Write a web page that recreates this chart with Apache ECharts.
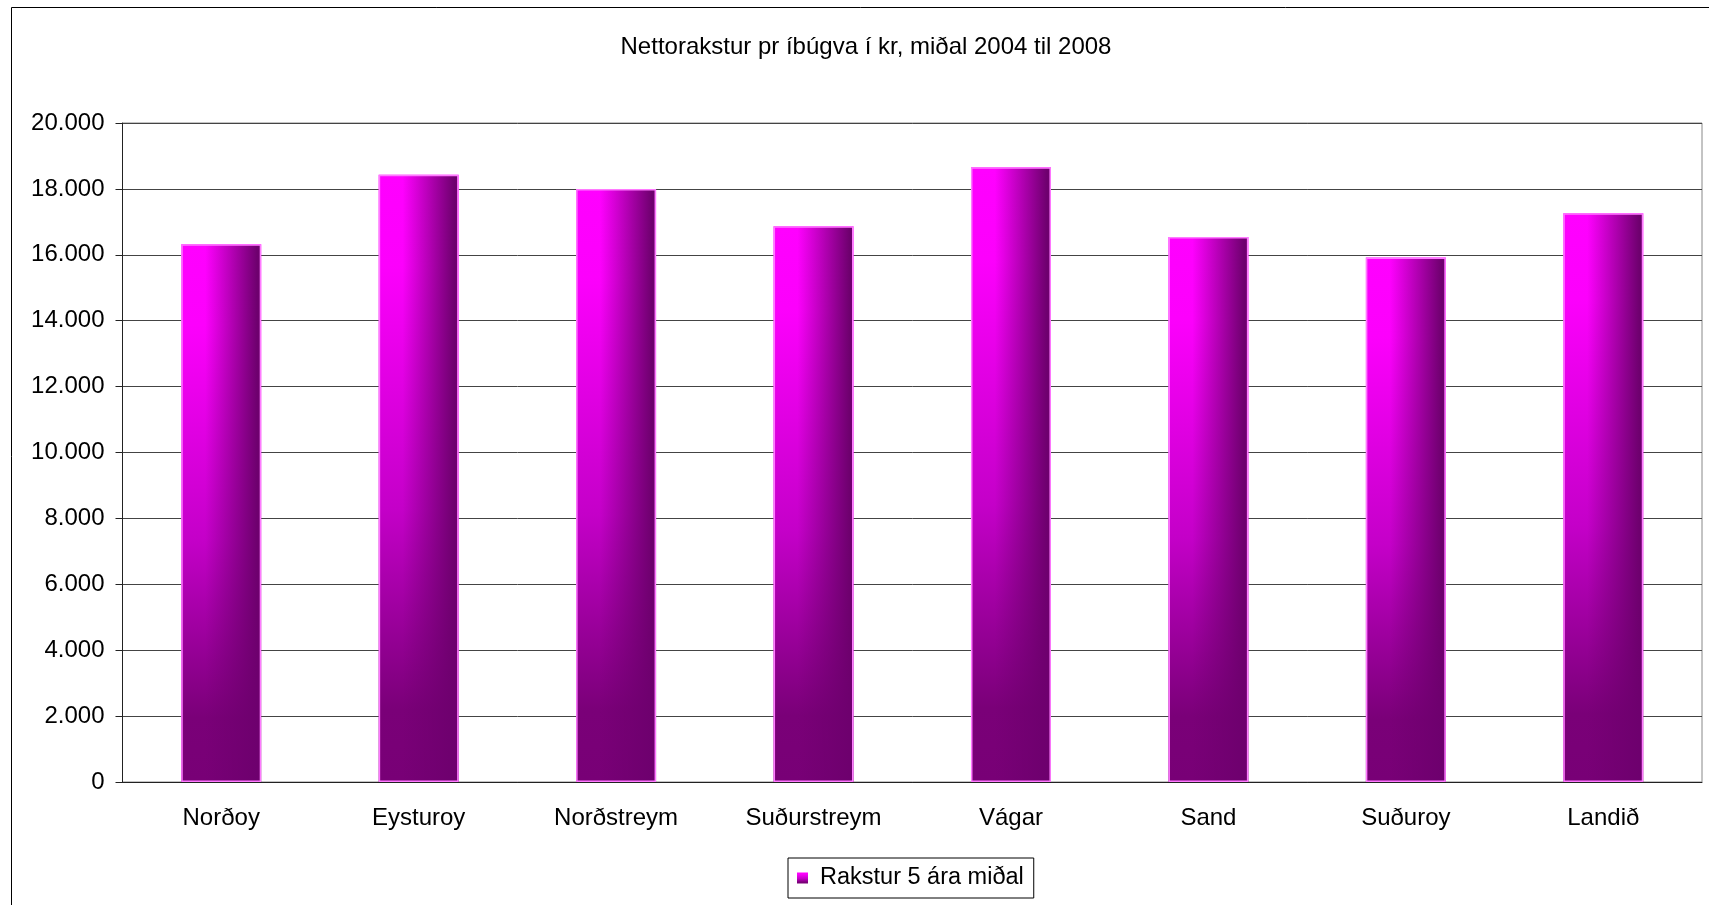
<!DOCTYPE html>
<html>
<head>
<meta charset="utf-8">
<title>Nettorakstur pr íbúgva</title>
<script src="https://cdn.jsdelivr.net/npm/echarts@6/dist/echarts.min.js"></script>
<style>
  html, body {margin: 0; padding: 0; background: #fff;}
  #chart {width: 1709px; height: 905px;}
</style>
</head>
<body>
<div id="chart"></div>
<script>
// data
const titleText = 'Nettorakstur pr íbúgva í kr, miðal 2004 til 2008'
const seriesName = 'Rakstur 5 ára miðal'
const categories = ['Norðoy', 'Eysturoy', 'Norðstreym', 'Suðurstreym', 'Vágar', 'Sand', 'Suðuroy', 'Landið']
const rakstur = [16320, 18430, 18000, 16870, 18660, 16540, 15920, 17260]
const yMin = 0
const yMax = 20000
const yStep = 2000

const font = "'Liberation Sans', Arial, sans-serif"

function thousands (v) {
  return String(v).replace(/\B(?=(\d{3})+(?!\d))/g, '.')
}

// vertical fade: magenta on top, dark purple at the foot
const baseFill = new echarts.graphic.LinearGradient(0, 0, 0, 1, [
  {offset: 0, color: '#ff00ff'},
  {offset: 0.15, color: '#fc00fc'},
  {offset: 0.55, color: '#c400c8'},
  {offset: 0.88, color: '#7a0078'},
  {offset: 1, color: '#780076'}
])
// horizontal shade toward the right edge, laid over the base
const shadeFill = new echarts.graphic.LinearGradient(0, 0, 1, 0, [
  {offset: 0, color: 'rgba(110, 0, 110, 0)'},
  {offset: 0.3, color: 'rgba(110, 0, 110, 0)'},
  {offset: 0.95, color: 'rgba(110, 0, 110, 1)'},
  {offset: 1, color: 'rgba(110, 0, 110, 1)'}
])

const chart = echarts.init(document.getElementById('chart'))

chart.setOption({
  animation: false,
  backgroundColor: '#fff',
  textStyle: {fontFamily: font},
  title: {
    text: titleText,
    left: 866,
    top: 35,
    padding: 0,
    textAlign: 'center',
    textStyle: {fontFamily: font, fontSize: 24, fontWeight: 'normal', color: '#000'}
  },
  graphic: [{
    type: 'rect',
    silent: true,
    shape: {x: 11.5, y: 7.5, width: 1800, height: 1000},
    style: {fill: 'none', stroke: '#000', lineWidth: 1}
  }],
  legend: {
    data: [{name: seriesName, icon: 'rect'}],
    left: 788,
    top: 858,
    padding: [8, 10, 8, 9],
    borderColor: '#000',
    borderWidth: 1,
    itemWidth: 11,
    itemHeight: 11,
    selectedMode: false,
    textStyle: {fontFamily: font, fontSize: 23.5, color: '#000', padding: [0, 0, 0, 7]}
  },
  grid: {
    left: 122.5,
    right: 7,
    top: 123,
    bottom: 123,
    show: true,
    borderColor: '#888',
    borderWidth: 1
  },
  xAxis: {
    type: 'category',
    data: categories,
    axisLine: {lineStyle: {color: '#222', width: 1}},
    axisTick: {length: 7, lineStyle: {color: '#222'}},
    axisLabel: {fontFamily: font, fontSize: 24, color: '#000', margin: 24}
  },
  yAxis: {
    type: 'value',
    min: yMin,
    max: yMax,
    interval: yStep,
    axisLine: {show: true, lineStyle: {color: '#222', width: 1}},
    axisTick: {show: true, length: 7, lineStyle: {color: '#222'}},
    axisLabel: {fontFamily: font, fontSize: 24, color: '#000', margin: 18, formatter: thousands},
    splitLine: {lineStyle: {color: '#444', width: 1}}
  },
  series: [
    {
      name: seriesName,
      type: 'bar',
      data: rakstur,
      barWidth: '40.5%',
      silent: true,
      itemStyle: {color: baseFill}
    },
    {
      name: 'skuggi',
      type: 'bar',
      data: rakstur,
      barWidth: '40.5%',
      barGap: '-100%',
      silent: true,
      itemStyle: {color: shadeFill, borderColor: '#ff7aff', borderWidth: 1.5}
    }
  ]
})
</script>
</body>
</html>
